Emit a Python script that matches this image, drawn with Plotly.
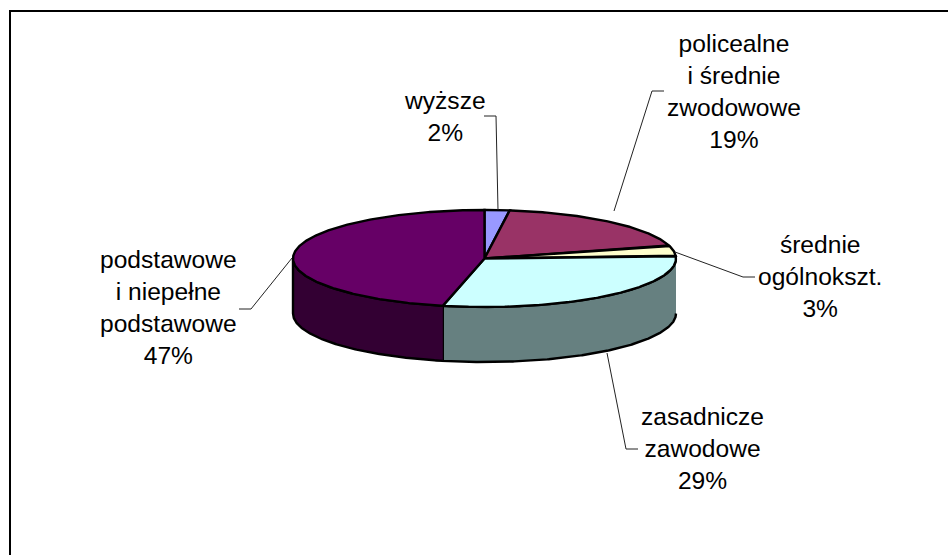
import numpy as np
import plotly.graph_objects as go

# Data (share of each slice, clockwise from 12 o'clock)
categories = ["wyższe", "policealne<br>i średnie<br>zwodowowe", "średnie<br>ogólnokszt.",
              "zasadnicze<br>zawodowe", "podstawowe<br>i niepełne<br>podstawowe"]
values = [2.1, 18.6, 3.4, 29.4, 46.51]

# Styles
top_colors = ["#9999FF", "#993366", "#FFFFCC", "#CCFFFF", "#660066"]
wall_colors = ["#4D4D80", "#4D1A33", "#808066", "#668080", "#330033"]

# Layout of the pseudo-3D disc, in the pixel-sized plot area
CX, CY, RX, RY, DEPTH = 484.5, 258.5, 191.5, 48.5, 55
FONT = dict(family="Liberation Sans, Arial, sans-serif", size=24.6, color="#000000")

label_pos = [(445, 116), (734, 91), (820, 276), (702, 448), (168, 307)]
leaders = [
    [(484, 116), (496, 116), (498, 210)],
    [(664, 91), (652, 91), (614, 211)],
    [(675, 252), (743, 277), (755, 277)],
    [(607, 353), (626, 449), (638, 449)],
    [(292, 258), (251, 309), (239, 309)],
]


def px(theta):
    return CX + RX * np.sin(np.radians(theta))


def py(theta):
    return CY - RY * np.cos(np.radians(theta))


total = sum(values)
edges = np.concatenate([[0], np.cumsum(values)]) / total * 360

fig = go.Figure()

# Side walls (only the part of the rim that faces the viewer)
for i in range(len(values)):
    a, b = max(edges[i], 90), min(edges[i + 1], 270)
    if a >= b:
        continue
    t = np.linspace(a, b, max(int((b - a) * 2), 2))
    xs = np.concatenate([px(t), px(t[::-1])])
    ys = np.concatenate([py(t), py(t[::-1]) + DEPTH])
    fig.add_trace(go.Scatter(x=xs, y=ys, mode="lines", fill="toself", fillcolor=wall_colors[i],
                             line=dict(color="#000000", width=2.4), hoverinfo="skip", showlegend=False))

# Top faces
for i in range(len(values)):
    a, b = edges[i], edges[i + 1]
    t = np.linspace(a, b, max(int((b - a) * 2), 2))
    xs = np.concatenate([[CX], px(t), [CX]])
    ys = np.concatenate([[CY], py(t), [CY]])
    fig.add_trace(go.Scatter(x=xs, y=ys, mode="lines", fill="toself", fillcolor=top_colors[i],
                             line=dict(color="#000000", width=2.4), hoverinfo="skip", showlegend=False))

# Leader lines
for pts in leaders:
    fig.add_trace(go.Scatter(x=[p[0] for p in pts], y=[p[1] for p in pts], mode="lines",
                             line=dict(color="#222222", width=1), hoverinfo="skip", showlegend=False))

# Labels
for cat, val, (x, y) in zip(categories, values, label_pos):
    fig.add_annotation(x=x, y=y, text=f"{cat}<br>{round(val / total * 100)}%", showarrow=False,
                       xanchor="center", yanchor="middle", align="center", font=FONT)

# Chart frame: only the top and left edges fall inside the picture
fig.add_shape(type="line", x0=9, x1=948, y0=11, y1=11, line=dict(color="#000000", width=2))
fig.add_shape(type="line", x0=10, x1=10, y0=10, y1=555, line=dict(color="#000000", width=2))

fig.update_layout(
    width=948, height=555, margin=dict(l=0, r=0, t=0, b=0),
    paper_bgcolor="#FFFFFF", plot_bgcolor="#FFFFFF", showlegend=False,
    xaxis=dict(range=[0, 948], visible=False, fixedrange=True),
    yaxis=dict(range=[555, 0], visible=False, fixedrange=True),
)
fig.write_html("out.html", config={"displayModeBar": False},
               post_script="document.body.style.margin='0';document.body.style.overflow='hidden';")
